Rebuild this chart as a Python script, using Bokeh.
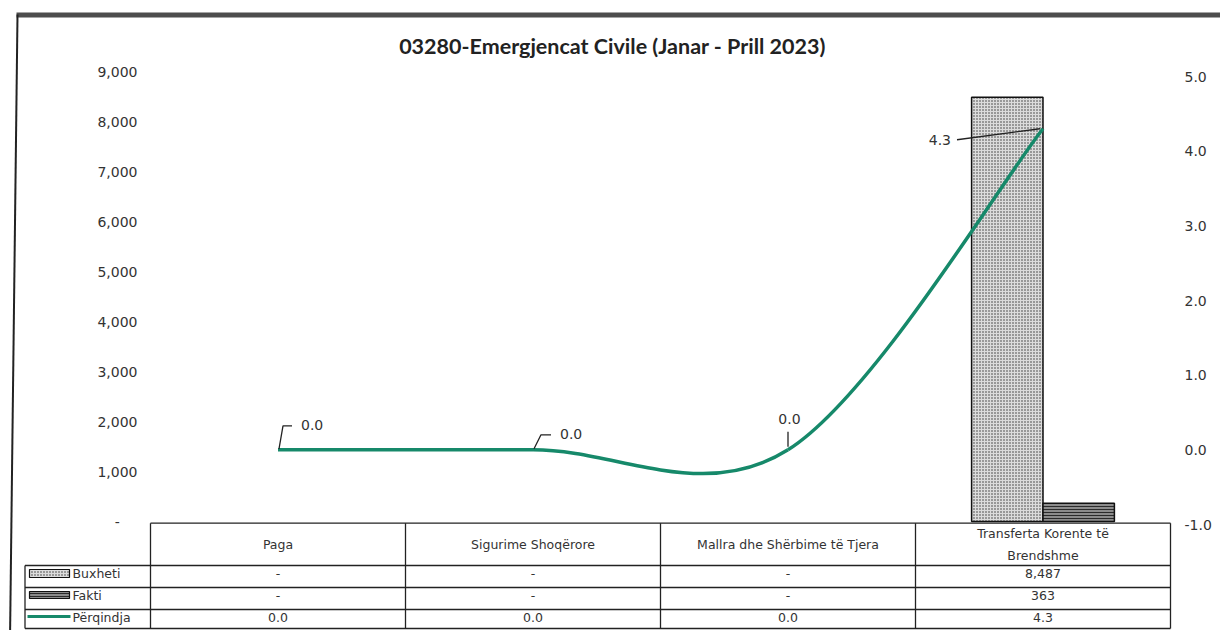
import textwrap
from bokeh.plotting import figure
from bokeh.models import (Range1d, LinearAxis, FixedTicker, NumeralTickFormatter,
                          ColumnDataSource)
from bokeh.core.properties import value
from bokeh.embed import file_html
from bokeh.resources import INLINE

# ---------------- data ----------------
title_text = "03280-Emergjencat Civile (Janar - Prill 2023)"
categories = ["Paga", "Sigurime Shoqërore", "Mallra dhe Shërbime të Tjera",
              "Transferta Korente të Brendshme"]
buxheti = [0, 0, 0, 8487]
fakti = [0, 0, 0, 363]
perqindja = [0.0, 0.0, 0.0, 4.3]
series_names = ["Buxheti", "Fakti", "Përqindja"]
left_ticks = [0, 1000, 2000, 3000, 4000, 5000, 6000, 7000, 8000, 9000]
right_ticks = [-1.0, 0.0, 1.0, 2.0, 3.0, 4.0, 5.0]

# ---------------- layout (pixels of the picture) ----------------
W, H = 1220, 630
X0_PX, X_STEP = 150, 255        # left edge of first category column, column width
YL0_PX, YLTOP_PX = 521, 71      # left axis: 0 and 9000
YP0_PX, YPTOP_PX = 524, 76      # right axis: -1.0 and 5.0
TBL_PX = 522                    # top of the data table

n = len(categories)
x_lo = -0.5 - X0_PX / X_STEP
x_hi = x_lo + W / X_STEP
kl = (YL0_PX - YLTOP_PX) / (left_ticks[-1] - left_ticks[0])
kp = (YP0_PX - YPTOP_PX) / (right_ticks[-1] - right_ticks[0])


def xr(px):
    return (px - X0_PX) / X_STEP - 0.5


def tb(py):
    return TBL_PX - py


TXT = "#333333"
LINE = "#222222"
GREEN = "#16896a"
FONT = "DejaVu Sans"

p = figure(width=W, height=H, output_backend="svg", toolbar_location=None,
           x_range=Range1d(x_lo, x_hi),
           y_range=Range1d(left_ticks[0] - (H - YL0_PX) / kl, left_ticks[0] + YL0_PX / kl),
           x_axis_location=None, y_axis_location=None,
           min_border=0, min_border_left=0, min_border_right=0,
           min_border_top=0, min_border_bottom=0)
p.extra_y_ranges = {
    "pct": Range1d(right_ticks[0] - (H - YP0_PX) / kp, right_ticks[0] + YP0_PX / kp),
    "tbl": Range1d(-(H - TBL_PX), TBL_PX),
}
p.xgrid.visible = False
p.ygrid.visible = False
p.outline_line_color = None
p.background_fill_color = "white"
p.border_fill_color = "white"


def style_axis(ax):
    ax.axis_line_color = None
    ax.major_tick_line_color = None
    ax.minor_tick_line_color = None
    ax.major_label_standoff = 0
    ax.major_tick_in = 0
    ax.major_tick_out = 0
    ax.major_label_text_font = FONT
    ax.major_label_text_font_size = "14px"
    ax.major_label_text_color = TXT


# left axis (values)
la = LinearAxis(ticker=FixedTicker(ticks=left_ticks),
                formatter=NumeralTickFormatter(format="0,0"),
                fixed_location=xr(137))
la.major_label_overrides = {0: "-\u00a0\u00a0\u00a0\u00a0"}
style_axis(la)
p.add_layout(la, "left")

# right axis (percentage)
ra = LinearAxis(y_range_name="pct", ticker=FixedTicker(ticks=right_ticks),
                formatter=NumeralTickFormatter(format="0.0"),
                fixed_location=xr(1184))
style_axis(ra)
p.add_layout(ra, "right")

# title
p.text(x=[xr(612)], y=[tb(45)], text=[title_text], y_range_name="tbl",
       text_align="center", text_baseline="middle",
       text_font=value("Lato"), text_font_size="21.5px", text_font_style="bold",
       text_color="#222222")

# scan frame border
p.quad(left=[xr(16)], right=[xr(1240)], top=[tb(12)], bottom=[tb(17)],
       y_range_name="tbl", fill_color="#4d4d4d", line_color=None)
p.segment(x0=[xr(17)], y0=[tb(14)], x1=[xr(9.5)], y1=[tb(640)],
          y_range_name="tbl", line_color=LINE, line_width=2)

# ---------------- bars ----------------
dodge, bw = 0.14, 0.28
bx = [i - dodge for i in range(n) if buxheti[i] > 0]
bt = [v for v in buxheti if v > 0]
fx = [i + dodge for i in range(n) if fakti[i] > 0]
ft = [v for v in fakti if v > 0]
BUX_STYLE = dict(fill_color="#dcdcdc", hatch_pattern=".", hatch_color="#333333",
                 hatch_scale=3, hatch_weight=1.4, line_color="#111111")
FAK_STYLE = dict(fill_color="#8c8c8c", hatch_pattern="-", hatch_color="#2b2b2b",
                 hatch_scale=3, hatch_weight=1, line_color="#111111")
p.vbar(x=bx, top=bt, bottom=0, width=bw, line_width=1.5, **BUX_STYLE)
p.vbar(x=fx, top=ft, bottom=0, width=bw, line_width=1.5, **FAK_STYLE)

# ---------------- smoothed percentage line ----------------
pts = list(zip(range(n), perqindja))
seg = dict(x0=[], y0=[], x1=[], y1=[], cx0=[], cy0=[], cx1=[], cy1=[])
for i in range(n - 1):
    p0, p1, p2, p3 = pts[max(i - 1, 0)], pts[i], pts[i + 1], pts[min(i + 2, n - 1)]
    seg["x0"].append(p1[0]); seg["y0"].append(p1[1])
    seg["x1"].append(p2[0]); seg["y1"].append(p2[1])
    seg["cx0"].append(p1[0] + (p2[0] - p0[0]) / 6); seg["cy0"].append(p1[1] + (p2[1] - p0[1]) / 6)
    seg["cx1"].append(p2[0] - (p3[0] - p1[0]) / 6); seg["cy1"].append(p2[1] - (p3[1] - p1[1]) / 6)
p.bezier(x0="x0", y0="y0", x1="x1", y1="y1", cx0="cx0", cy0="cy0", cx1="cx1", cy1="cy1",
         source=ColumnDataSource(seg), y_range_name="pct", line_color=GREEN, line_width=3.5)

# data labels with leader lines (offsets in screen px, y pointing down)
label_style = [
    dict(dx=23, dy=-25, align="left", leader=[(1, -1), (5, -24), (14, -24)]),
    dict(dx=27, dy=-16, align="left", leader=[(1, -1), (8, -15), (18, -15)]),
    dict(dx=1.5, dy=-31, align="center", leader=[(0, -3), (0, -18)]),
    dict(dx=-92, dy=11, align="right", leader=[(-86, 11), (-3, 0)]),
]
lxs, lys = [], []
for i, st in enumerate(label_style):
    lxs.append([i + dx / X_STEP for dx, dy in st["leader"]])
    lys.append([perqindja[i] - dy / kp for dx, dy in st["leader"]])
    p.text(x=[i + st["dx"] / X_STEP], y=[perqindja[i] - st["dy"] / kp],
           text=[f"{perqindja[i]:.1f}"], y_range_name="pct",
           text_align=st["align"], text_baseline="middle",
           text_font=value(FONT), text_font_size="14px", text_color=TXT)
p.multi_line(xs=lxs, ys=lys, y_range_name="pct", line_color=LINE, line_width=1.3)

# ---------------- data table ----------------
col_edges = [i - 0.5 for i in range(n + 1)]
TOP_Y, HEAD_Y = tb(522.7), tb(565)
row_lines = [tb(565), tb(587), tb(609), tb(628)]
LEG_L = xr(24.5)
p.segment(x0=[col_edges[0]], x1=[col_edges[-1]], y0=[TOP_Y], y1=[TOP_Y],
          y_range_name="tbl", line_color=LINE, line_width=1.3)
p.segment(x0=[LEG_L] * len(row_lines), x1=[col_edges[-1]] * len(row_lines),
          y0=row_lines, y1=row_lines, y_range_name="tbl", line_color=LINE, line_width=1.3)
p.segment(x0=col_edges, x1=col_edges, y0=[TOP_Y] * len(col_edges),
          y1=[row_lines[-1]] * len(col_edges), y_range_name="tbl", line_color=LINE, line_width=1.3)
p.segment(x0=[LEG_L], x1=[LEG_L], y0=[HEAD_Y], y1=[row_lines[-1]],
          y_range_name="tbl", line_color=LINE, line_width=1.3)

TFS = "12.5px"
header = ["\n".join(textwrap.wrap(c, 29)) for c in categories]
p.text(x=list(range(n)), y=[tb(544)] * n, text=header, y_range_name="tbl",
       text_align="center", text_baseline="middle", text_line_height=1.45,
       text_font=value(FONT), text_font_size=TFS, text_color=TXT)


def fmt_amount(v):
    return "-" if v == 0 else f"{v:,.0f}"


row_text_y = [tb(573), tb(595), tb(617)]
row_values = [[fmt_amount(v) for v in buxheti], [fmt_amount(v) for v in fakti],
              [f"{v:.1f}" for v in perqindja]]
for ry, vals in zip(row_text_y, row_values):
    p.text(x=list(range(n)), y=[ry] * n, text=vals, y_range_name="tbl",
           text_align="center", text_baseline="middle",
           text_font=value(FONT), text_font_size=TFS, text_color=TXT)

# legend keys and series names in the first table column
p.quad(left=[xr(29)], right=[xr(69)], top=[tb(569)], bottom=[tb(577)],
       y_range_name="tbl", line_width=1.2, **BUX_STYLE)
p.quad(left=[xr(29)], right=[xr(69)], top=[tb(591)], bottom=[tb(598)],
       y_range_name="tbl", line_width=1.2, **FAK_STYLE)
p.segment(x0=[xr(27)], x1=[xr(70)], y0=[tb(616)], y1=[tb(616)],
          y_range_name="tbl", line_color=GREEN, line_width=3)
p.text(x=[xr(72)] * len(series_names), y=row_text_y, text=series_names, y_range_name="tbl",
       text_align="left", text_baseline="middle",
       text_font=value(FONT), text_font_size=TFS, text_color=TXT)

open("out.html", "w").write(file_html(p, INLINE))
